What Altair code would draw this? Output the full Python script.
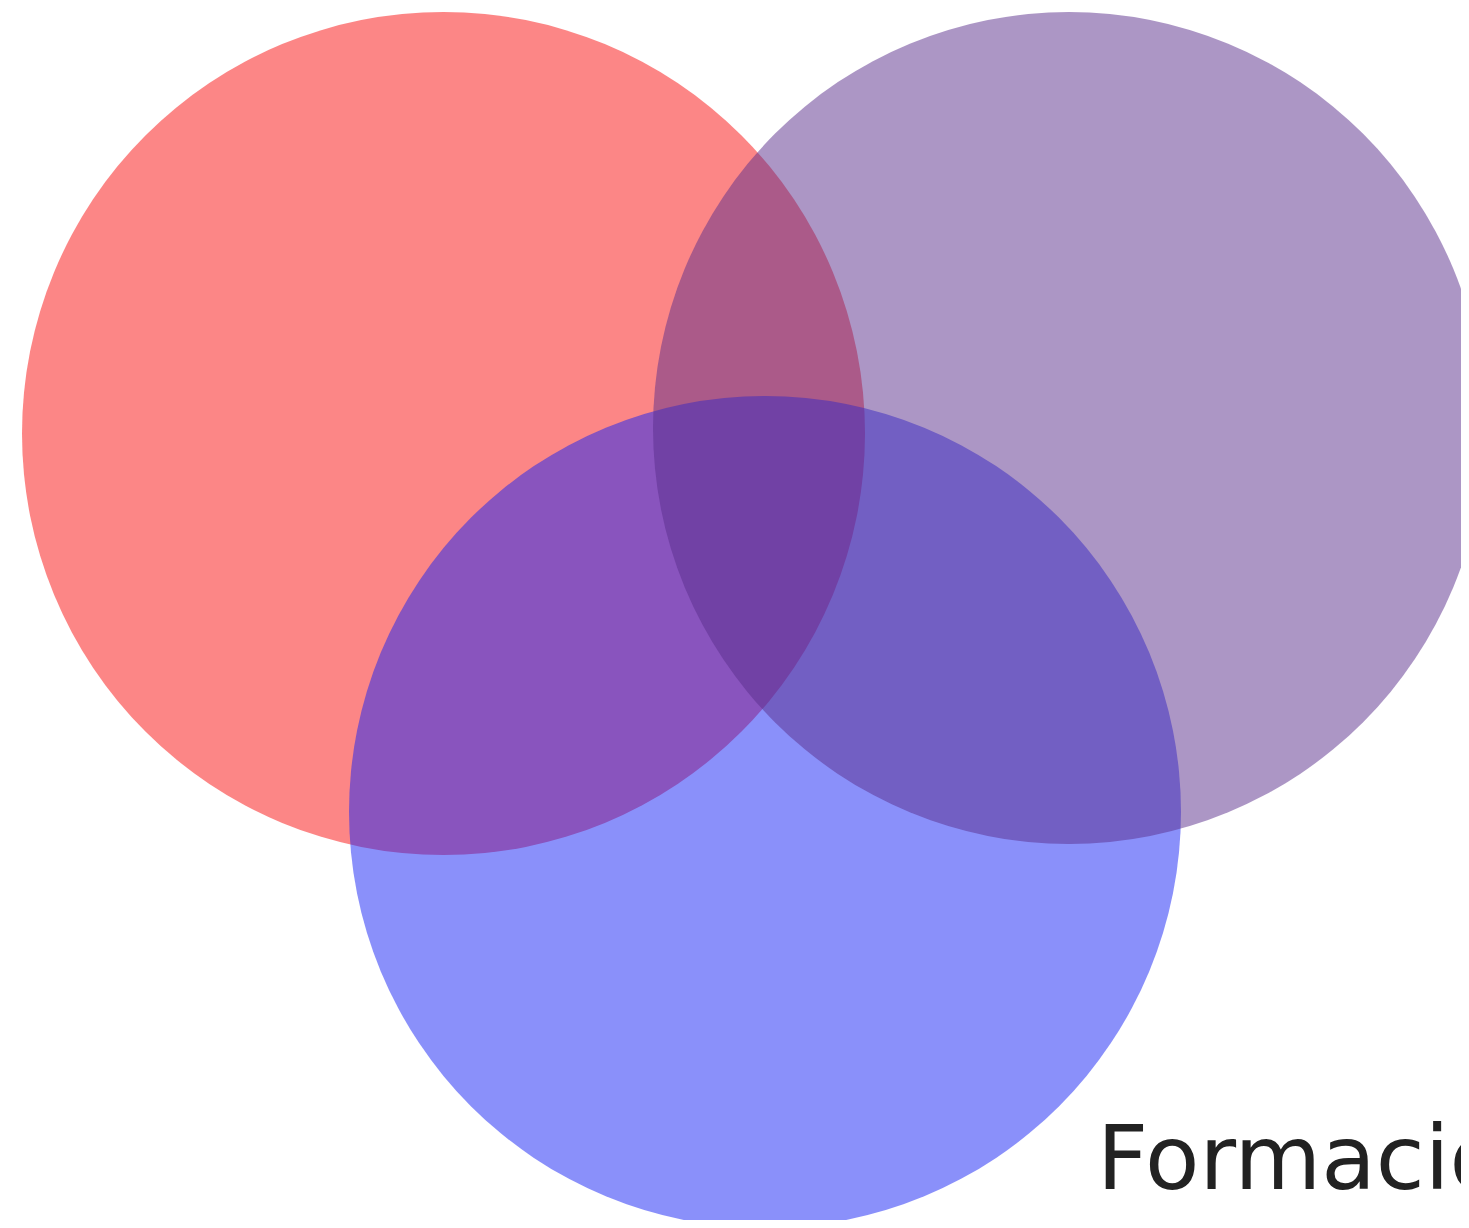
import altair as alt
import pandas as pd

# Venn sets (drawing order: red, blue, purple)
sets = ["Profesional", "Formación", "Personal"]
center_x = [435.5, 757.0, 1061.0]
center_y = [425.5, 804.0, 420.0]
set_size = [100.0, 97.4, 97.4]
colors = ["#F90D0D", "#1521F5", "#592D8B"]
draw_order = [0, 1, 2]

label_text = ["Profesional", "Formación"]
label_x = [7.0, 1089.0]
label_y = [227.0, 1181.0]
label_align = ["right", "left"]

W, H = 1453, 1212

circles = pd.DataFrame({
    "set": sets, "x": center_x, "y": center_y,
    "size": set_size, "order": draw_order,
})
labels = pd.DataFrame({
    "text": label_text, "x": label_x, "y": label_y, "align": label_align,
})

xs = alt.Scale(domain=[0, W], range=[0, W], nice=False, zero=False)
ys = alt.Scale(domain=[0, H], reverse=True, nice=False, zero=False)

circ = alt.Chart(circles).mark_circle(opacity=0.5, strokeWidth=0).encode(
    x=alt.X("x:Q", scale=xs, axis=None),
    y=alt.Y("y:Q", scale=ys, axis=None),
    size=alt.Size("size:Q", scale=alt.Scale(domain=[0, 100], range=[0, 710649], zero=True), legend=None),
    color=alt.Color("set:N", scale=alt.Scale(domain=sets, range=colors), legend=None),
    order=alt.Order("order:Q"),
)

def label_layer(align):
    return alt.Chart(labels[labels["align"] == align]).mark_text(
        align=align, baseline="alphabetic", font="DejaVu Sans", fontSize=89, color="#222222"
    ).encode(
        x=alt.X("x:Q", scale=xs, axis=None),
        y=alt.Y("y:Q", scale=ys, axis=None),
        text="text:N",
    )

chart = alt.layer(circ, label_layer("right"), label_layer("left")).properties(
    width=W, height=H, padding=0, background="white",
    autosize=alt.AutoSizeParams(type="none"),
).configure_view(stroke=None)

chart.save("out.html", embed_options={"renderer": "svg", "actions": False})
